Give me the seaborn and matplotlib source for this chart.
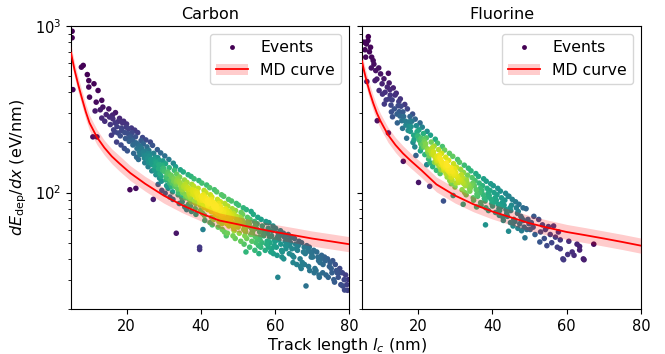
import numpy as np
import pandas as pd
import matplotlib
matplotlib.use("Agg")
import matplotlib.pyplot as plt
from matplotlib.lines import Line2D
from matplotlib.patches import Patch
from matplotlib.ticker import NullFormatter
import seaborn as sns

# ---------------- data ----------------
panel_titles = ["Carbon", "Fluorine"]

carbon_pts = [
    (5.3,930),(5.3,850),(5.5,415),(7.8,566),(8.3,580),(9.4,511),(9.8,470),(11.2,450),(9.8,430),(12.3,410),
    (10.0,374),(11.8,349),(13.3,358),(13.6,326),(12.9,314),(11.5,309),(14.5,294),(13.3,280),(14.1,268),(10.9,216),(12.0,216),
    (15.2,318),(15.6,256),(15.4,284),(15.9,221),(16.2,292),(16.5,238),(16.3,277),(16.8,231),(16.9,262),
    (17.0,302),(17.4,249),(17.7,228),(17.8,268),(17.3,201),(18.1,279),(18.6,244),(18.3,219),(18.9,262),(18.5,193),(18.7,236),
    (19.2,268),(19.5,229),(19.7,211),(19.9,247),(19.4,184),(20.0,258),(20.4,226),(20.7,203),(20.5,241),(20.2,178),(20.9,104),(20.8,214),
    (21.3,244),(21.1,218),(21.7,193),(21.5,229),(21.9,172),(21.6,206),(22.2,237),(22.5,199),(22.8,184),(22.4,216),(22.7,163),(22.5,106),(22.9,196),
    (23.0,229),(23.5,191),(23.4,176),(23.9,205),(23.2,158),(23.8,188),(23.6,169),(24.3,214),(24.1,183),(24.7,167),(24.5,196),(24.9,151),(24.4,174),(24.8,161),
    (25.2,207),(25.0,177),(25.6,160),(25.5,188),(25.8,143),(25.3,167),(25.9,152),(25.7,171),
    (26.4,201),(26.2,166),(26.7,153),(26.0,179),(26.8,135),(26.5,158),(26.9,147),(26.3,171),
    (27.0,192),(27.4,159),(27.6,144),(27.3,172),(27.9,128),(27.7,154),(27.5,137),(27.2,91),(27.8,163),
    (28.3,181),(28.0,151),(28.6,139),(28.4,162),(28.9,122),(28.7,147),(28.2,131),(28.5,112),(28.8,156),
    (29.2,173),(29.6,146),(29.0,130),(29.8,155),(29.4,117),(29.9,140),(29.3,125),(29.7,136),(29.5,103),
    (30.3,166),(30.0,139),(30.7,124),(30.5,149),(30.8,110),(30.2,134),(30.6,119),(30.9,129),(30.4,99),
    (31.4,158),(31.1,133),(31.8,119),(31.5,141),(31.2,106),(31.9,127),(31.6,114),(31.0,122),(31.7,94),(31.3,130),
    (32.6,150),(32.0,127),(32.3,114),(32.9,136),(32.4,101),(32.8,121),(32.1,109),(32.7,117),(32.5,91),(32.2,124),
    (33.2,143),(33.7,121),(33.0,109),(33.5,129),(33.9,97),(33.4,116),(33.8,105),(33.3,112),(33.4,57),(33.6,118),
    (34.5,137),(34.1,117),(34.8,104),(34.3,124),(34.9,93),(34.6,112),(34.0,100),(34.7,108),(34.2,86),(34.4,114),
    (35.3,133),(35.8,112),(35.1,100),(35.6,119),(35.0,88),(35.4,108),(35.9,97),(35.2,104),(35.7,82),(35.5,110),(35.9,93),
    (36.6,128),(36.0,109),(36.9,98),(36.3,115),(36.7,85),(36.1,105),(36.4,95),(36.8,101),(36.2,79),(36.5,107),(36.9,91),
    (37.4,125),(37.8,104),(37.1,95),(37.6,112),(37.2,83),(37.9,102),(37.3,92),(37.7,98),(37.5,77),(37.0,104),(37.4,88),
    (38.2,121),(38.6,102),(38.9,93),(38.1,109),(38.5,80),(38.8,99),(38.3,89),(38.4,96),(38.7,74),(38.0,100),(38.6,86),
    (39.5,118),(39.1,99),(39.8,90),(39.3,106),(39.9,78),(39.2,96),(39.6,87),(39.4,93),(39.7,45.5),(39.7,47),(39.0,101),(39.8,84),
    (40.3,114),(40.7,97),(40.0,87),(40.9,103),(40.5,75),(40.2,93),(40.8,84),(40.4,90),(40.6,60),(40.1,95),(40.9,81),(40.6,92),
    (41.6,111),(41.2,94),(41.9,84),(41.4,100),(41.0,73),(41.8,90),(41.3,82),(41.7,87),(41.1,68),(41.5,92),(41.9,79),(41.2,89),
    (42.4,107),(42.8,91),(42.1,82),(42.6,97),(42.9,71),(42.3,88),(42.7,80),(42.0,85),(42.5,66),(42.2,90),(42.8,77),(42.4,86),
    (43.7,104),(43.2,88),(43.9,79),(43.0,94),(43.5,69),(43.8,85),(43.3,77),(43.6,82),(43.1,64),(43.4,87),(43.9,74),(43.5,83),
    (44.3,101),(44.8,86),(44.0,77),(44.5,91),(44.9,67),(44.2,83),(44.6,75),(44.4,80),(44.7,62),(44.1,84),(44.8,72),(44.3,81),
    (45.6,97),(45.1,83),(45.9,75),(45.3,88),(45.7,65),(45.0,80),(45.5,73),(45.2,78),(45.8,60),(45.4,82),(45.9,70),(45.6,79),
    (46.2,95),(46.7,80),(46.0,72),(46.5,86),(46.9,55),(46.3,78),(46.8,70),(46.1,75),(46.4,58),(46.6,79),(46.9,67),(46.2,76),
    (47.5,91),(47.0,78),(47.8,70),(47.3,83),(47.6,63),(47.1,76),(47.9,67),(47.4,73),(47.2,57),(47.7,77),(47.0,65),(47.6,74),
    (48.3,89),(48.8,75),(48.0,68),(48.5,80),(48.9,61),(48.2,74),(48.6,66),(48.4,71),(48.7,55),(48.1,72),(48.9,64),(48.5,73),
    (49.6,86),(49.1,73),(49.9,66),(49.4,78),(49.0,59),(49.7,72),(49.2,64),(49.8,69),(49.3,53),(49.5,70),(49.0,62),
    (50.2,84),(50.6,71),(50.0,64),(50.9,76),(50.4,57),(50.7,70),(50.1,62),(50.5,67),(50.8,51),(50.3,68),
    (51.5,81),(51.1,69),(51.8,62),(51.3,74),(51.9,55),(51.2,68),(51.6,60),(51.0,65),(51.7,49),(51.4,66),
    (52.3,79),(52.8,67),(52.0,60),(52.6,71),(52.4,53),(52.9,65),(52.1,58),(52.7,63),(52.2,44),(52.5,66),
    (53.6,77),(53.1,65),(53.9,58),(53.3,69),(53.8,51),(53.0,63),(53.5,56),(53.7,61),(53.2,47),
    (54.2,74),(54.7,63),(54.0,56),(54.5,67),(54.9,50),(54.3,61),(54.8,54),(54.1,59),(54.6,45),
    (55.4,71),(55.0,61),(55.8,54),(55.2,65),(55.6,48),(55.9,58),(55.3,52),(55.7,43),
    (56.3,69),(56.8,59),(56.0,52),(56.6,63),(56.2,47),(56.9,56),(56.5,50),
    (57.6,67),(57.2,58),(57.9,51),(57.7,66),(57.4,45),(57.0,55),(57.8,49),
    (58.4,66),(58.0,57),(58.7,50),(58.2,61),(58.9,44),(58.6,54),(58.3,47),
    (59.5,63),(59.1,55),(59.8,48),(59.3,59),(59.6,43),(59.9,52),(59.2,46),
    (60.2,61),(60.7,54),(60.4,47),(60.9,57),(60.8,31),(60.1,51),(60.6,42),
    (61.5,59),(61.1,52),(61.8,45),(61.3,55),(61.9,41),(61.6,49),
    (62.3,57),(62.8,51),(62.0,44),(62.6,54),(62.4,40),(62.9,48),
    (63.6,56),(63.2,49),(63.9,43),(63.4,52),(63.8,52),(63.0,46),
    (64.4,54),(64.0,48),(64.7,42),(64.2,50),(64.9,38),(64.6,46),
    (65.3,53),(65.8,46),(65.1,41),(65.6,49),(65.9,37),(66.5,51),(66.1,45),(66.8,40),(66.3,48),(66.9,36),
    (67.2,50),(67.7,44),(67.4,38),(67.9,47),(67.1,35),(68.6,48),(68.2,43),(68.4,27.5),(68.9,45),(68.0,37),
    (69.3,47),(69.8,41),(69.1,36),(69.6,44),(69.4,34),(70.5,45),(70.2,41),(70.8,35),(70.0,43),(70.6,33),
    (71.3,44),(71.8,39),(71.1,34),(71.6,41),(71.9,32),(72.6,42),(72.2,38),(72.9,33),(72.4,40),(72.0,31),
    (73.4,41),(73.0,37),(73.8,32),(73.6,39),(74.2,40),(74.7,36),(74.4,31),(74.9,38),
    (75.6,39),(75.2,35),(75.9,30),(75.4,33),(76.3,37),(76.8,33),(76.1,29),(76.6,34),
    (77.5,35),(77.1,31),(77.8,28),(77.3,33),(78.2,33),(78.3,27.5),(78.7,30),(78.8,26),
    (79.1,32),(79.4,28),(79.6,25.9),(79.8,30),
]

fluorine_pts = [
    (5.5,800),(5.8,720),(6.0,650),(6.2,780),(6.6,817),(6.7,863),(7.0,700),(7.3,745),(7.6,650),(8.2,590),
    (8.7,540),(6.3,464),(9.1,270),(9.6,410),(10.0,516),(10.4,450),(10.9,482),(11.8,430),(12.1,520),(12.3,365),
    (8.0,620),(9.0,480),(9.5,560),(10.5,390),(11.2,400),(11.5,360),(7.5,560),(8.5,470),(11.0,340),(12.1,228),
    (12.3,455),(12.6,385),(12.8,335),(12.5,415),(12.9,305),(13.4,425),(13.1,360),(13.7,318),(13.9,385),(13.2,285),
    (14.2,395),(14.7,332),(14.4,296),(14.9,352),(14.5,262),(15.3,365),(15.0,306),(15.7,270),(15.5,330),(15.9,243),(15.2,288),
    (16.5,338),(16.2,286),(16.8,254),(16.0,305),(16.1,154),(16.7,268),(17.2,318),(17.7,266),(17.4,236),(17.9,286),(17.0,212),(17.6,250),
    (18.6,296),(18.2,249),(18.9,221),(18.4,268),(18.7,200),(18.0,233),
    (19.3,276),(19.8,232),(19.0,208),(19.6,252),(19.2,188),(19.9,218),(19.5,167),
    (20.6,262),(20.1,219),(20.8,196),(20.3,238),(20.7,178),(20.4,206),(20.2,115),(20.9,212),
    (21.2,247),(21.7,209),(21.0,186),(21.5,226),(21.9,169),(21.3,195),(21.8,202),(21.6,188),
    (22.5,233),(22.1,196),(22.8,174),(22.3,213),(22.9,159),(22.6,183),(22.0,190),(22.7,176),(22.4,147),
    (23.4,221),(23.9,186),(23.1,166),(23.6,201),(23.3,151),(23.8,173),(23.0,180),(23.7,170),(23.2,109),(23.5,178),
    (24.7,209),(24.2,176),(24.9,157),(24.4,190),(24.0,143),(24.6,164),(24.1,170),(24.8,162),(24.5,152),(24.3,168),
    (25.3,198),(25.8,168),(25.1,150),(25.6,181),(25.0,136),(25.4,156),(25.9,162),(25.2,153),(25.7,144),(25.5,160),(25.1,165),
    (26.6,189),(26.1,159),(26.9,142),(26.4,172),(26.0,130),(26.7,149),(26.3,154),(26.8,146),(26.2,137),(26.9,89),(26.5,152),(26.2,147),
    (27.2,180),(27.7,151),(27.0,136),(27.5,163),(27.9,124),(27.3,142),(27.8,146),(27.1,139),(27.6,130),(27.4,144),(27.9,138),
    (28.5,172),(28.0,145),(28.8,130),(28.3,156),(28.6,118),(28.1,136),(28.9,141),(28.4,133),(28.7,124),(28.2,139),(28.6,135),
    (29.4,165),(29.9,139),(29.1,124),(29.6,149),(29.0,113),(29.7,130),(29.3,134),(29.8,127),(29.2,119),(29.5,96),(29.5,132),
    (30.7,158),(30.2,132),(30.9,119),(30.4,142),(30.0,108),(30.6,124),(30.1,128),(30.8,122),(30.3,114),(30.5,126),
    (31.2,152),(31.7,128),(31.0,115),(31.5,138),(31.9,104),(31.3,120),(31.8,124),(31.6,118),
    (32.5,146),(32.0,123),(32.8,110),(32.3,132),(32.6,100),(32.1,115),(32.9,119),(32.4,113),(32.2,85),
    (33.6,140),(33.1,119),(33.9,106),(33.4,127),(33.0,97),(33.7,111),(33.2,115),
    (34.3,135),(34.8,114),(34.0,102),(34.6,123),(34.9,93),(34.2,107),(34.5,111),
    (35.6,130),(35.2,110),(35.9,98),(35.4,118),(35.0,90),(35.7,104),(35.8,82),
    (36.3,125),(36.8,106),(36.1,95),(36.5,114),(36.9,87),(36.6,100),
    (37.7,121),(37.2,103),(37.9,92),(37.4,110),(37.0,84),(37.6,97),
    (38.4,117),(38.9,99),(38.1,89),(38.6,106),(38.3,81),(38.8,94),(38.2,64),
    (39.6,113),(39.2,96),(39.9,86),(39.4,103),(39.0,78),(39.7,91),
    (40.3,110),(40.8,93),(40.1,83),(40.5,100),(40.9,76),(40.6,88),
    (41.5,106),(41.1,90),(41.8,80),(41.3,97),(41.9,73),(41.6,85),
    (42.2,102),(42.7,87),(42.0,78),(42.5,93),(42.9,71),(42.4,82),
    (43.6,99),(43.2,84),(43.9,75),(43.4,90),(43.0,68),(43.7,79),
    (44.3,95),(44.8,81),(44.1,72),(44.5,95),(44.9,66),(44.4,58.6),
    (45.4,91),(45.0,78),(45.8,69),(45.2,84),(45.6,63),(46.3,88),(46.8,75),(46.1,67),(46.5,81),(46.9,61),
    (47.2,85),(47.7,72),(47.4,65),(47.0,77),(47.9,59),(48.3,81),(48.0,70),(48.6,62),(48.8,53.5),(48.4,68),
    (49.1,80),(49.6,69),(49.3,60),(49.9,65),
    (50.2,60),(50.5,66),(51.0,62),(51.5,56),(51.2,72),
    (52.5,69),(52.8,50.5),(53.0,58),(53.5,64),(54.0,53),(54.7,48),(54.3,60),
    (55.1,62.5),(55.6,56),(56.0,50),(56.5,63),(57.0,54),(57.5,47),(58.3,52),(58.3,46),(59.0,40),(59.2,39.5),(57.8,58),
    (60.3,42.5),(60.6,51),(61.5,44),(62.0,42),(62.8,49),(63.5,47.5),(63.5,45.2),(64.5,40),(64.7,39.5),(67.3,49),
]

md_x = [5, 5.5, 6, 7, 8, 9, 10, 12, 14, 16, 18, 21, 25, 30, 35, 40, 45, 50, 55, 60, 65, 70, 75, 80]
carbon_md = [690, 610, 540, 440, 365, 305, 262, 215, 186, 165, 150, 131, 113, 96, 84, 75, 68, 64.5, 61, 58, 55.5, 53, 51, 49]
carbon_lo = [622, 550, 486, 396, 329, 275, 236, 194, 168, 149, 135, 118, 102, 86.5, 75.7, 67.6, 61.3, 58.1, 55.0, 52.3, 50.0, 47.7, 45.9, 44.1]
carbon_hi = [766, 677, 599, 488, 405, 339, 291, 239, 206, 183, 167, 145, 125, 107, 93.2, 83.3, 75.5, 71.6, 67.7, 64.4, 61.6, 58.8, 56.6, 54.4]
fluorine_md = [615, 545, 490, 405, 345, 300, 268, 222, 193, 172, 156, 136, 112, 96, 85, 77, 71, 65.5, 61.5, 58, 55.5, 53, 50.5, 48]
fluorine_lo = [554, 491, 441, 365, 311, 270, 241, 200, 174, 155, 141, 123, 101, 86.5, 76.6, 69.4, 64.0, 59.0, 55.4, 52.3, 50.0, 47.7, 45.5, 43.2]
fluorine_hi = [683, 605, 544, 450, 383, 333, 297, 246, 214, 191, 173, 151, 124, 107, 94.4, 85.5, 78.8, 72.7, 68.3, 64.4, 61.6, 58.8, 56.1, 53.3]

x_ticks = [20, 40, 60, 80]
legend_labels = ["Events", "MD curve"]


def density(xs, ys):
    """Gaussian KDE (Scott's rule) evaluated at the points."""
    pts = np.vstack([xs, ys])
    n = pts.shape[1]
    cov = np.cov(pts) * n ** (-2.0 / 6.0)
    inv = np.linalg.inv(cov)
    d = pts[:, :, None] - pts[:, None, :]
    q = np.einsum("ij,ikl,jkl->kl", inv, d, d)
    return np.exp(-0.5 * q).sum(axis=1)


fig = plt.figure(figsize=(6.65, 3.54), dpi=100)
ax1 = fig.add_axes([71 / 665, 45 / 354, 278 / 665, 283 / 354])
ax2 = fig.add_axes([362 / 665, 45 / 354, 279 / 665, 283 / 354], sharey=ax1)

sets = [
    (ax1, carbon_pts, carbon_md, carbon_lo, carbon_hi),
    (ax2, fluorine_pts, fluorine_md, fluorine_lo, fluorine_hi),
]

for i, (ax, pts, md, lo, hi) in enumerate(sets):
    xs = np.array([p[0] for p in pts])
    ys = np.array([p[1] for p in pts])
    df = pd.DataFrame({"x": xs, "y": ys, "d": density(xs, ys)}).sort_values("d")
    sns.scatterplot(data=df, x="x", y="y", hue="d", palette="viridis", s=16,
                    linewidth=0, legend=False, ax=ax, zorder=2)
    ax.fill_between(md_x, lo, hi, color="red", alpha=0.2, linewidth=0, zorder=3)
    sns.lineplot(x=md_x, y=md, color="red", lw=1.3, ax=ax, zorder=4)
    ax.set_yscale("log")
    ax.set_ylim(20, 1000)
    ax.set_xlim(5, 80)
    ax.set_xticks(x_ticks)
    ax.yaxis.set_minor_formatter(NullFormatter())
    ax.set_title(panel_titles[i], fontsize=11.5, pad=5)
    ax.set_xlabel("")
    ax.set_ylabel("")
    ax.tick_params(labelsize=10.5)

    ev = Line2D([], [], marker="o", linestyle="none", markersize=3.5,
                markerfacecolor=plt.get_cmap("viridis")(0.0), markeredgewidth=0)
    band = Patch(facecolor="red", alpha=0.2, linewidth=0)
    ln = Line2D([], [], color="red", lw=1.3)
    ax.legend([ev, (band, ln)], legend_labels, loc="upper right", fontsize=11.3,
              handlelength=2.0, borderaxespad=0.5)

plt.setp(ax2.get_yticklabels(), visible=False)
ax1.set_ylabel(r"$dE_{\rm dep}/dx$ (eV/nm)", fontsize=11.5)
fig.text(0.522, 0.024, r"Track length $l_c$ (nm)", ha="center", va="center", fontsize=11.5)

fig.savefig("out.png", dpi=100)
